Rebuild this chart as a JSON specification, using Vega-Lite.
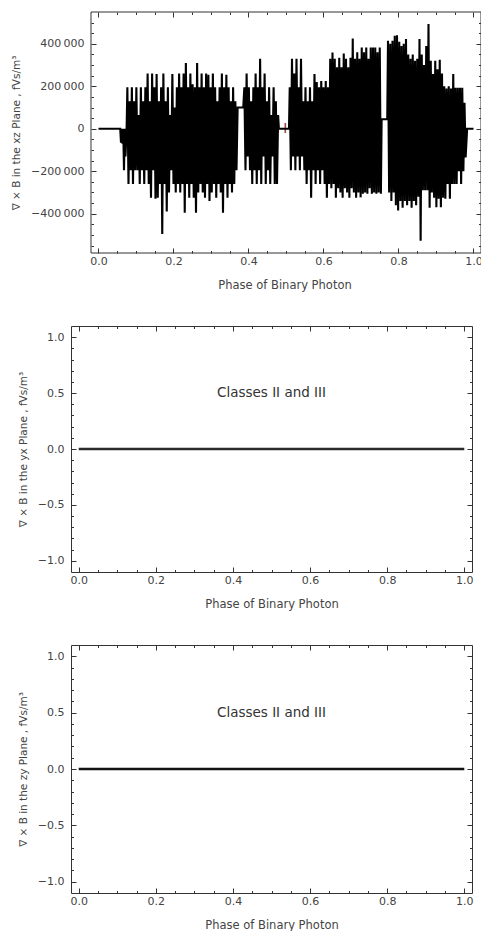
{
  "$schema": "https://vega.github.io/schema/vega-lite/v6.json",
  "background": "white",
  "padding": {"left": 11, "top": 11, "right": 0, "bottom": 0},
  "config": {
    "view": {"stroke": "#333333", "strokeWidth": 1},
    "axis": {
      "labelFont": "DejaVu Sans", "labelFontSize": 11, "labelColor": "#444444",
      "titleFont": "DejaVu Sans", "titleFontSize": 11.5, "titleFontWeight": "normal", "titleColor": "#444444",
      "domain": false, "grid": false, "tickColor": "#333333", "tickWidth": 1, "labelOverlap": false
    },
    "axisLeft": {"titleFontSize": 10.5}
  },
  "datasets": {
    "xz": [
      {"phase":0,"curl":0},{"phase":0.058,"curl":0},{"phase":0.060,"curl":-65000},{"phase":0.062,"curl":0},{"phase":0.064,"curl":-70000},{"phase":0.066,"curl":0},{"phase":0.068,"curl":-195000},{"phase":0.070,"curl":0},{"phase":0.072,"curl":-130000},{"phase":0.075,"curl":0},
      {"phase":0.077,"curl":195000},{"phase":0.080,"curl":-260000},{"phase":0.083,"curl":130000},{"phase":0.086,"curl":-195000},{"phase":0.089,"curl":195000},{"phase":0.092,"curl":-260000},{"phase":0.095,"curl":130000},{"phase":0.098,"curl":-195000},{"phase":0.101,"curl":195000},{"phase":0.104,"curl":-195000},{"phase":0.107,"curl":65000},{"phase":0.110,"curl":-260000},{"phase":0.113,"curl":195000},{"phase":0.116,"curl":-195000},{"phase":0.119,"curl":130000},{"phase":0.122,"curl":-260000},{"phase":0.125,"curl":195000},{"phase":0.128,"curl":-195000},{"phase":0.131,"curl":260000},{"phase":0.134,"curl":-260000},{"phase":0.137,"curl":130000},{"phase":0.140,"curl":-325000},{"phase":0.143,"curl":260000},{"phase":0.146,"curl":-195000},{"phase":0.149,"curl":195000},{"phase":0.152,"curl":-330000},{"phase":0.155,"curl":258000},{"phase":0.158,"curl":-325000},{"phase":0.161,"curl":130000},{"phase":0.164,"curl":-260000},{"phase":0.167,"curl":195000},{"phase":0.170,"curl":-495000},{"phase":0.173,"curl":260000},{"phase":0.176,"curl":-260000},{"phase":0.179,"curl":130000},{"phase":0.182,"curl":-390000},{"phase":0.185,"curl":195000},{"phase":0.188,"curl":-300000},{"phase":0.191,"curl":65000},{"phase":0.194,"curl":-195000},{"phase":0.197,"curl":258000},{"phase":0.200,"curl":-260000},{"phase":0.203,"curl":100000},{"phase":0.206,"curl":-300000},
      {"phase":0.209,"curl":195000},{"phase":0.212,"curl":-260000},{"phase":0.215,"curl":260000},{"phase":0.218,"curl":-300000},{"phase":0.221,"curl":195000},{"phase":0.224,"curl":-260000},{"phase":0.227,"curl":260000},{"phase":0.230,"curl":-395000},{"phase":0.233,"curl":310000},{"phase":0.236,"curl":-260000},{"phase":0.239,"curl":195000},{"phase":0.242,"curl":-325000},{"phase":0.245,"curl":260000},{"phase":0.248,"curl":-260000},{"phase":0.251,"curl":210000},{"phase":0.254,"curl":-325000},{"phase":0.257,"curl":195000},{"phase":0.260,"curl":-395000},{"phase":0.263,"curl":310000},{"phase":0.266,"curl":-300000},{"phase":0.269,"curl":195000},{"phase":0.272,"curl":-260000},{"phase":0.275,"curl":260000},{"phase":0.278,"curl":-300000},{"phase":0.281,"curl":195000},{"phase":0.284,"curl":-325000},{"phase":0.287,"curl":260000},{"phase":0.290,"curl":-260000},{"phase":0.293,"curl":255000},{"phase":0.296,"curl":-340000},{"phase":0.299,"curl":195000},{"phase":0.302,"curl":-300000},{"phase":0.305,"curl":260000},{"phase":0.308,"curl":-260000},{"phase":0.311,"curl":195000},{"phase":0.314,"curl":-325000},{"phase":0.317,"curl":130000},{"phase":0.320,"curl":-260000},{"phase":0.323,"curl":195000},{"phase":0.326,"curl":-300000},{"phase":0.329,"curl":260000},{"phase":0.332,"curl":-395000},{"phase":0.335,"curl":195000},{"phase":0.338,"curl":-260000},{"phase":0.341,"curl":255000},{"phase":0.344,"curl":-325000},{"phase":0.347,"curl":195000},{"phase":0.350,"curl":-260000},{"phase":0.353,"curl":130000},{"phase":0.356,"curl":-300000},{"phase":0.359,"curl":195000},{"phase":0.362,"curl":-260000},{"phase":0.365,"curl":130000},{"phase":0.368,"curl":-195000},{"phase":0.371,"curl":100000},{"phase":0.386,"curl":100000},
      {"phase":0.389,"curl":195000},{"phase":0.392,"curl":-195000},{"phase":0.395,"curl":260000},{"phase":0.398,"curl":-130000},{"phase":0.401,"curl":195000},{"phase":0.404,"curl":-195000},{"phase":0.407,"curl":130000},{"phase":0.410,"curl":-260000},{"phase":0.413,"curl":195000},{"phase":0.416,"curl":-195000},{"phase":0.419,"curl":260000},{"phase":0.422,"curl":-260000},{"phase":0.425,"curl":195000},{"phase":0.428,"curl":-195000},{"phase":0.431,"curl":330000},{"phase":0.434,"curl":-260000},{"phase":0.437,"curl":195000},{"phase":0.440,"curl":-130000},{"phase":0.443,"curl":260000},{"phase":0.446,"curl":-260000},{"phase":0.449,"curl":130000},{"phase":0.452,"curl":-195000},{"phase":0.455,"curl":195000},{"phase":0.458,"curl":-260000},{"phase":0.461,"curl":65000},{"phase":0.464,"curl":-130000},{"phase":0.467,"curl":195000},{"phase":0.470,"curl":-260000},{"phase":0.473,"curl":130000},{"phase":0.476,"curl":-260000},{"phase":0.479,"curl":65000},{"phase":0.481,"curl":0},{"phase":0.508,"curl":0},
      {"phase":0.510,"curl":195000},{"phase":0.513,"curl":-195000},{"phase":0.516,"curl":330000},{"phase":0.519,"curl":-130000},{"phase":0.522,"curl":260000},{"phase":0.525,"curl":-195000},{"phase":0.528,"curl":330000},{"phase":0.531,"curl":-130000},{"phase":0.534,"curl":195000},{"phase":0.537,"curl":-195000},{"phase":0.540,"curl":330000},{"phase":0.543,"curl":-130000},{"phase":0.546,"curl":130000},{"phase":0.549,"curl":-195000},{"phase":0.552,"curl":195000},{"phase":0.555,"curl":-260000},{"phase":0.558,"curl":130000},{"phase":0.561,"curl":-195000},{"phase":0.564,"curl":195000},{"phase":0.567,"curl":-325000},{"phase":0.570,"curl":130000},{"phase":0.573,"curl":-195000},{"phase":0.576,"curl":258000},{"phase":0.579,"curl":-260000},{"phase":0.582,"curl":220000},{"phase":0.585,"curl":-195000},{"phase":0.588,"curl":195000},{"phase":0.591,"curl":-260000},{"phase":0.594,"curl":225000},{"phase":0.597,"curl":-195000},{"phase":0.600,"curl":195000},{"phase":0.603,"curl":-260000},{"phase":0.606,"curl":225000},{"phase":0.609,"curl":-325000},{"phase":0.612,"curl":195000},{"phase":0.615,"curl":-260000},
      {"phase":0.618,"curl":330000},{"phase":0.621,"curl":-280000},{"phase":0.624,"curl":359000},{"phase":0.627,"curl":-260000},{"phase":0.630,"curl":330000},{"phase":0.633,"curl":-325000},{"phase":0.636,"curl":290000},{"phase":0.639,"curl":-280000},{"phase":0.642,"curl":335000},{"phase":0.645,"curl":-300000},{"phase":0.648,"curl":290000},{"phase":0.651,"curl":-325000},{"phase":0.654,"curl":355000},{"phase":0.657,"curl":-280000},{"phase":0.660,"curl":330000},{"phase":0.663,"curl":-300000},{"phase":0.666,"curl":290000},{"phase":0.669,"curl":-325000},{"phase":0.672,"curl":335000},{"phase":0.675,"curl":-280000},{"phase":0.678,"curl":425000},{"phase":0.681,"curl":-300000},{"phase":0.684,"curl":330000},{"phase":0.687,"curl":-325000},{"phase":0.690,"curl":360000},{"phase":0.693,"curl":-300000},{"phase":0.696,"curl":330000},{"phase":0.699,"curl":-323000},
      {"phase":0.702,"curl":383000},{"phase":0.705,"curl":-306000},{"phase":0.708,"curl":360000},{"phase":0.711,"curl":-300000},{"phase":0.714,"curl":383000},{"phase":0.717,"curl":-306000},{"phase":0.720,"curl":330000},{"phase":0.723,"curl":-280000},{"phase":0.726,"curl":383000},{"phase":0.729,"curl":-306000},{"phase":0.732,"curl":383000},{"phase":0.735,"curl":-300000},{"phase":0.738,"curl":383000},{"phase":0.741,"curl":-306000},{"phase":0.744,"curl":360000},{"phase":0.747,"curl":-300000},{"phase":0.750,"curl":383000},{"phase":0.753,"curl":-306000},{"phase":0.755,"curl":45000},{"phase":0.770,"curl":45000},
      {"phase":0.772,"curl":415000},{"phase":0.775,"curl":-300000},{"phase":0.778,"curl":400000},{"phase":0.781,"curl":-340000},{"phase":0.784,"curl":415000},{"phase":0.787,"curl":-300000},{"phase":0.790,"curl":438000},{"phase":0.793,"curl":-360000},{"phase":0.796,"curl":440000},{"phase":0.799,"curl":-385000},{"phase":0.802,"curl":410000},{"phase":0.805,"curl":-340000},{"phase":0.808,"curl":390000},{"phase":0.811,"curl":-372000},{"phase":0.814,"curl":400000},{"phase":0.817,"curl":-340000},{"phase":0.820,"curl":423000},{"phase":0.823,"curl":-360000},{"phase":0.826,"curl":350000},{"phase":0.829,"curl":-340000},{"phase":0.832,"curl":330000},{"phase":0.835,"curl":-372000},{"phase":0.838,"curl":350000},{"phase":0.841,"curl":-340000},{"phase":0.844,"curl":320000},{"phase":0.847,"curl":-360000},{"phase":0.850,"curl":330000},{"phase":0.853,"curl":-320000},{"phase":0.856,"curl":423000},{"phase":0.859,"curl":-527000},{"phase":0.862,"curl":350000},{"phase":0.865,"curl":-290000},{"phase":0.868,"curl":300000},{"phase":0.871,"curl":-290000},{"phase":0.874,"curl":390000},{"phase":0.877,"curl":-290000},{"phase":0.880,"curl":494000},{"phase":0.883,"curl":-372000},{"phase":0.886,"curl":320000},{"phase":0.889,"curl":-300000},{"phase":0.892,"curl":258000},{"phase":0.895,"curl":-325000},{"phase":0.898,"curl":320000},{"phase":0.901,"curl":-370000},{"phase":0.904,"curl":280000},{"phase":0.907,"curl":-330000},{"phase":0.910,"curl":325000},{"phase":0.913,"curl":-370000},{"phase":0.916,"curl":260000},{"phase":0.919,"curl":-325000},{"phase":0.922,"curl":200000},{"phase":0.925,"curl":-330000},{"phase":0.928,"curl":190000},{"phase":0.931,"curl":-260000},{"phase":0.934,"curl":200000},{"phase":0.937,"curl":-330000},{"phase":0.940,"curl":190000},{"phase":0.943,"curl":-260000},{"phase":0.946,"curl":258000},{"phase":0.949,"curl":-260000},{"phase":0.952,"curl":193000},{"phase":0.955,"curl":-260000},{"phase":0.958,"curl":193000},{"phase":0.961,"curl":-200000},{"phase":0.964,"curl":193000},{"phase":0.967,"curl":-260000},{"phase":0.970,"curl":193000},{"phase":0.973,"curl":-200000},{"phase":0.976,"curl":122000},{"phase":0.979,"curl":-135000},{"phase":0.983,"curl":0},{"phase":1.0,"curl":0}
    ],
    "flat": [
      {"phase":0,"curl":0},{"phase":0.1,"curl":0},{"phase":0.2,"curl":0},{"phase":0.3,"curl":0},{"phase":0.4,"curl":0},{"phase":0.5,"curl":0},{"phase":0.6,"curl":0},{"phase":0.7,"curl":0},{"phase":0.8,"curl":0},{"phase":0.9,"curl":0},{"phase":1.0,"curl":0}
    ],
    "hidden": [{"phase":0.445,"curl":0,"label":"Class I"}],
    "note": [{"phase":0.5,"curl":0.5,"label":"Classes II and III"}],
    "frame": [{"phase":0,"curl":0}]
  },
  "vconcat": [
    {
      "width": 410, "height": 241,
      "view": {"stroke": null},
      "layer": [
        {
          "data": {"name": "frame"},
          "mark": {"type": "rect", "fill": null, "stroke": "#333333", "strokeWidth": 1},
          "encoding": {
            "x": {"datum": -0.02, "type": "quantitative", "scale": {"domain": [-0.0733, 1.02], "nice": false, "zero": false}, "axis": null},
            "x2": {"datum": 1.02},
            "y": {"datum": -585000, "type": "quantitative", "scale": {"domain": [-585000, 550000], "nice": false, "zero": false}, "axis": null},
            "y2": {"datum": 550000}
          }
        },
        {
          "data": {"name": "hidden"},
          "mark": {"type": "text", "font": "DejaVu Sans", "fontSize": 13.5, "color": "#8a3030"},
          "encoding": {
            "x": {"field": "phase", "type": "quantitative", "axis": null},
            "y": {"field": "curl", "type": "quantitative", "axis": null},
            "text": {"field": "label"}
          }
        },
        {
          "data": {"name": "xz"},
          "mark": {"type": "line", "color": "#000000", "strokeWidth": 2.1, "strokeJoin": "miter", "strokeMiterLimit": 2},
          "encoding": {
            "x": {"field": "phase", "type": "quantitative", "sort": null,
              "axis": {"orient": "bottom", "values": [0, 0.2, 0.4, 0.6, 0.8, 1.0], "format": ".1f", "tickSize": -5, "labelPadding": 7, "title": "Phase of Binary Photon", "titlePadding": 13, "titleX": 213.5}},
            "y": {"field": "curl", "type": "quantitative",
              "axis": {"orient": "left", "offset": -20, "values": [-400000, -200000, 0, 200000, 400000], "labelExpr": "replace(format(datum.value, ','), ',', '\u2009')", "tickSize": -5, "labelPadding": 12, "title": "∇ × B in the xz Plane , fVs/m³", "titlePadding": 9}}
          }
        },
        {
          "data": {"name": "frame"},
          "mark": {"type": "point", "opacity": 0},
          "encoding": {
            "x": {"field": "phase", "type": "quantitative", "axis": {"orient": "bottom", "values": [0.05, 0.1, 0.15, 0.25, 0.3, 0.35, 0.45, 0.5, 0.55, 0.65, 0.7, 0.75, 0.85, 0.9, 0.95], "labels": false, "tickSize": -2.5, "title": null}},
            "y": {"field": "curl", "type": "quantitative", "axis": {"orient": "left", "offset": -20, "values": [-550000, -500000, -450000, -350000, -300000, -250000, -150000, -100000, -50000, 50000, 100000, 150000, 250000, 300000, 350000, 450000, 500000], "labels": false, "tickSize": -2.5, "title": null}}
          }
        },
        {
          "data": {"name": "frame"},
          "mark": {"type": "point", "opacity": 0},
          "encoding": {
            "x": {"field": "phase", "type": "quantitative", "axis": {"orient": "top", "values": [0, 0.2, 0.4, 0.6, 0.8, 1.0], "labels": false, "tickSize": -5, "title": null}},
            "y": {"field": "curl", "type": "quantitative", "axis": {"orient": "right", "values": [-400000, -200000, 0, 200000, 400000], "labels": false, "tickSize": -5, "title": null}}
          }
        },
        {
          "data": {"name": "frame"},
          "mark": {"type": "point", "opacity": 0},
          "encoding": {
            "x": {"field": "phase", "type": "quantitative", "axis": {"orient": "top", "values": [0.05, 0.1, 0.15, 0.25, 0.3, 0.35, 0.45, 0.5, 0.55, 0.65, 0.7, 0.75, 0.85, 0.9, 0.95], "labels": false, "tickSize": -2.5, "title": null}},
            "y": {"field": "curl", "type": "quantitative", "axis": {"orient": "right", "values": [-550000, -500000, -450000, -350000, -300000, -250000, -150000, -100000, -50000, 50000, 100000, 150000, 250000, 300000, 350000, 450000, 500000], "labels": false, "tickSize": -2.5, "title": null}}
          }
        }
      ],
      "resolve": {"axis": {"x": "independent", "y": "independent"}}
    },
    {
      "width": 401, "height": 246,
      "layer": [
        {
          "data": {"name": "note"},
          "mark": {"type": "text", "font": "DejaVu Sans", "fontSize": 13.5, "color": "#333333"},
          "encoding": {
            "x": {"field": "phase", "type": "quantitative", "scale": {"domain": [-0.02, 1.02], "nice": false, "zero": false}, "axis": null},
            "y": {"field": "curl", "type": "quantitative", "scale": {"domain": [-1.1, 1.1], "nice": false, "zero": false}, "axis": null},
            "text": {"field": "label"}
          }
        },
        {
          "data": {"name": "flat"},
          "mark": {"type": "line", "color": "#2b2b2b", "strokeWidth": 2.5},
          "encoding": {
            "x": {"field": "phase", "type": "quantitative",
              "axis": {"orient": "bottom", "values": [0, 0.2, 0.4, 0.6, 0.8, 1.0], "format": ".1f", "tickSize": -5, "labelPadding": 7, "title": "Phase of Binary Photon", "titlePadding": 13}},
            "y": {"field": "curl", "type": "quantitative",
              "axis": {"orient": "left", "values": [-1, -0.5, 0, 0.5, 1], "format": ".1f", "tickSize": -5, "labelPadding": 12, "title": "∇ × B in the yx Plane , fVs/m³", "titlePadding": 9}}
          }
        },
        {
          "data": {"name": "frame"},
          "mark": {"type": "point", "opacity": 0},
          "encoding": {
            "x": {"field": "phase", "type": "quantitative", "axis": {"orient": "bottom", "values": [0.05, 0.1, 0.15, 0.25, 0.3, 0.35, 0.45, 0.5, 0.55, 0.65, 0.7, 0.75, 0.85, 0.9, 0.95], "labels": false, "tickSize": -2.5, "title": null}},
            "y": {"field": "curl", "type": "quantitative", "axis": {"orient": "left", "values": [-0.9, -0.8, -0.7, -0.6, -0.4, -0.3, -0.2, -0.1, 0.1, 0.2, 0.3, 0.4, 0.6, 0.7, 0.8, 0.9], "labels": false, "tickSize": -2.5, "title": null}}
          }
        },
        {
          "data": {"name": "frame"},
          "mark": {"type": "point", "opacity": 0},
          "encoding": {
            "x": {"field": "phase", "type": "quantitative", "axis": {"orient": "top", "values": [0, 0.2, 0.4, 0.6, 0.8, 1.0], "labels": false, "tickSize": -5, "title": null}},
            "y": {"field": "curl", "type": "quantitative", "axis": {"orient": "right", "values": [-1, -0.5, 0, 0.5, 1], "labels": false, "tickSize": -5, "title": null}}
          }
        },
        {
          "data": {"name": "frame"},
          "mark": {"type": "point", "opacity": 0},
          "encoding": {
            "x": {"field": "phase", "type": "quantitative", "axis": {"orient": "top", "values": [0.05, 0.1, 0.15, 0.25, 0.3, 0.35, 0.45, 0.5, 0.55, 0.65, 0.7, 0.75, 0.85, 0.9, 0.95], "labels": false, "tickSize": -2.5, "title": null}},
            "y": {"field": "curl", "type": "quantitative", "axis": {"orient": "right", "values": [-0.9, -0.8, -0.7, -0.6, -0.4, -0.3, -0.2, -0.1, 0.1, 0.2, 0.3, 0.4, 0.6, 0.7, 0.8, 0.9], "labels": false, "tickSize": -2.5, "title": null}}
          }
        }
      ],
      "resolve": {"axis": {"x": "independent", "y": "independent"}}
    },
    {
      "width": 401, "height": 248,
      "layer": [
        {
          "data": {"name": "note"},
          "mark": {"type": "text", "font": "DejaVu Sans", "fontSize": 13.5, "color": "#333333"},
          "encoding": {
            "x": {"field": "phase", "type": "quantitative", "scale": {"domain": [-0.02, 1.02], "nice": false, "zero": false}, "axis": null},
            "y": {"field": "curl", "type": "quantitative", "scale": {"domain": [-1.1, 1.1], "nice": false, "zero": false}, "axis": null},
            "text": {"field": "label"}
          }
        },
        {
          "data": {"name": "flat"},
          "mark": {"type": "line", "color": "#111111", "strokeWidth": 2.5},
          "encoding": {
            "x": {"field": "phase", "type": "quantitative",
              "axis": {"orient": "bottom", "values": [0, 0.2, 0.4, 0.6, 0.8, 1.0], "format": ".1f", "tickSize": -5, "labelPadding": 7, "title": "Phase of Binary Photon", "titlePadding": 13}},
            "y": {"field": "curl", "type": "quantitative",
              "axis": {"orient": "left", "values": [-1, -0.5, 0, 0.5, 1], "format": ".1f", "tickSize": -5, "labelPadding": 12, "title": "∇ × B in the zy Plane , fVs/m³", "titlePadding": 9}}
          }
        },
        {
          "data": {"name": "frame"},
          "mark": {"type": "point", "opacity": 0},
          "encoding": {
            "x": {"field": "phase", "type": "quantitative", "axis": {"orient": "bottom", "values": [0.05, 0.1, 0.15, 0.25, 0.3, 0.35, 0.45, 0.5, 0.55, 0.65, 0.7, 0.75, 0.85, 0.9, 0.95], "labels": false, "tickSize": -2.5, "title": null}},
            "y": {"field": "curl", "type": "quantitative", "axis": {"orient": "left", "values": [-0.9, -0.8, -0.7, -0.6, -0.4, -0.3, -0.2, -0.1, 0.1, 0.2, 0.3, 0.4, 0.6, 0.7, 0.8, 0.9], "labels": false, "tickSize": -2.5, "title": null}}
          }
        },
        {
          "data": {"name": "frame"},
          "mark": {"type": "point", "opacity": 0},
          "encoding": {
            "x": {"field": "phase", "type": "quantitative", "axis": {"orient": "top", "values": [0, 0.2, 0.4, 0.6, 0.8, 1.0], "labels": false, "tickSize": -5, "title": null}},
            "y": {"field": "curl", "type": "quantitative", "axis": {"orient": "right", "values": [-1, -0.5, 0, 0.5, 1], "labels": false, "tickSize": -5, "title": null}}
          }
        },
        {
          "data": {"name": "frame"},
          "mark": {"type": "point", "opacity": 0},
          "encoding": {
            "x": {"field": "phase", "type": "quantitative", "axis": {"orient": "top", "values": [0.05, 0.1, 0.15, 0.25, 0.3, 0.35, 0.45, 0.5, 0.55, 0.65, 0.7, 0.75, 0.85, 0.9, 0.95], "labels": false, "tickSize": -2.5, "title": null}},
            "y": {"field": "curl", "type": "quantitative", "axis": {"orient": "right", "values": [-0.9, -0.8, -0.7, -0.6, -0.4, -0.3, -0.2, -0.1, 0.1, 0.2, 0.3, 0.4, 0.6, 0.7, 0.8, 0.9], "labels": false, "tickSize": -2.5, "title": null}}
          }
        }
      ],
      "resolve": {"axis": {"x": "independent", "y": "independent"}}
    }
  ],
  "spacing": 34
}
